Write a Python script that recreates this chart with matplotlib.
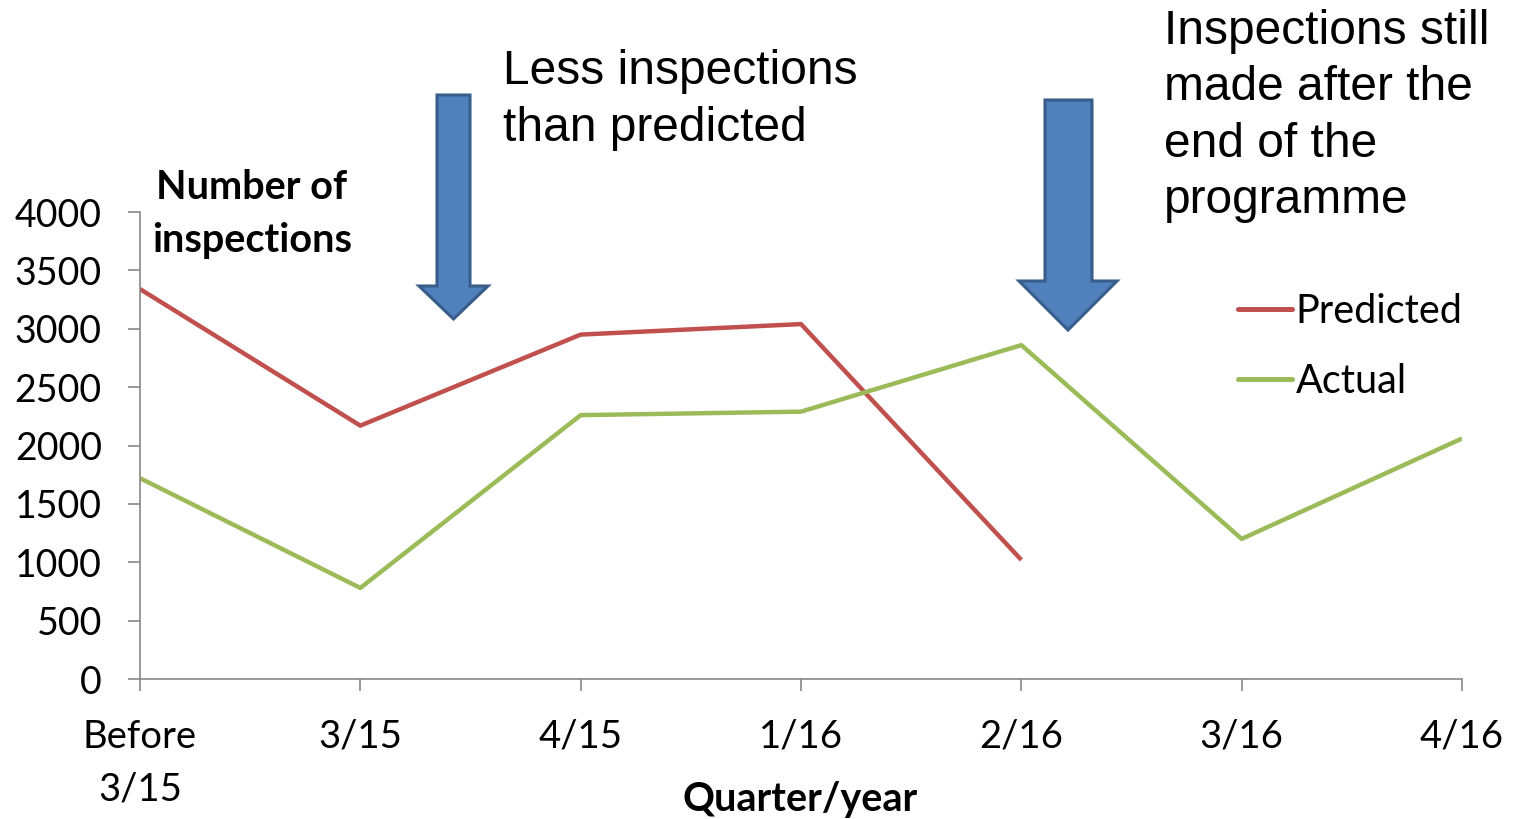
import matplotlib.pyplot as plt
from matplotlib.patches import Polygon

categories = ['Before\n3/15', '3/15', '4/15', '1/16', '2/16', '3/16', '4/16']
predicted = [3340, 2170, 2950, 3040, 1020]
actual = [1720, 780, 2260, 2290, 2860, 1200, 2060]
yticks = [0, 500, 1000, 1500, 2000, 2500, 3000, 3500, 4000]

W, H = 1516, 819
fig = plt.figure(figsize=(W / 100, H / 100), dpi=100)


def px(x, y):
    # pixel position (from top left) -> figure fraction
    return (x / W, 1 - y / H)


ax = fig.add_axes([140 / W, 1 - 679 / H, (1462 - 140) / W, (679 - 212) / H])

red = '#C0504D'
green = '#9BBB59'
gray = '#878787'

ax.plot(range(len(predicted)), predicted, color=red, lw=3.2, label='Predicted',
        solid_joinstyle='round', solid_capstyle='butt')
ax.plot(range(len(actual)), actual, color=green, lw=3.2, label='Actual',
        solid_joinstyle='round', solid_capstyle='butt')

ax.set_xlim(0, len(categories) - 1)
ax.set_ylim(0, 4000)
ax.set_xticks(range(len(categories)))
ax.set_xticklabels(categories, fontfamily='Lato', fontsize=27.5, linespacing=1.58)
ax.set_yticks(yticks)
ax.set_yticklabels([str(v) for v in yticks], fontfamily='Lato', fontsize=27)
for s in ['top', 'right']:
    ax.spines[s].set_visible(False)
for s in ['left', 'bottom']:
    ax.spines[s].set_color(gray)
    ax.spines[s].set_linewidth(1.2)
ax.tick_params(axis='both', color=gray, width=1.2, length=8.5)
ax.tick_params(axis='y', pad=19)
ax.tick_params(axis='x', pad=20)
ax.set_facecolor('none')

ax.set_xlabel('Quarter/year', fontfamily='Lato', fontweight='bold', fontsize=28.5)
ax.xaxis.set_label_coords(0.499, (679 - 800) / 467)
ax.xaxis.label.set_va('center')

leg = ax.legend(loc='upper left', bbox_to_anchor=px(1238, 293),
                bbox_transform=fig.transFigure, frameon=False, borderpad=0,
                borderaxespad=0, prop={'family': 'Lato', 'size': 28.5},
                handlelength=1.36, handletextpad=0.1, labelspacing=0.83)
for line in leg.get_lines():
    line.set_solid_capstyle('round')
    line.set_linewidth(3.6)

fig.text(*px(252, 214), 'Number of\ninspections', fontfamily='Lato', fontweight='bold',
         fontsize=28.5, ha='center', va='center', linespacing=1.52)

fig.text(*px(503, 100), 'Less inspections\nthan predicted', fontfamily='Liberation Sans',
         fontsize=34.5, ha='left', va='center', linespacing=1.32)
fig.text(*px(1164, 116), 'Inspections still\nmade after the\nend of the\nprogramme',
         fontfamily='Liberation Sans', fontsize=34.5, ha='left', va='center', linespacing=1.33)


def block_arrow(x0, x1, top, head_y, tip_y, hx0, hx1):
    cx = (hx0 + hx1) / 2
    pts = [(x0, top), (x1, top), (x1, head_y), (hx1, head_y), (cx, tip_y),
           (hx0, head_y), (x0, head_y)]
    poly = Polygon([px(x, y) for x, y in pts], closed=True, transform=fig.transFigure,
                   facecolor='#4F81BD', edgecolor='#385D8A', lw=2.2, joinstyle='miter')
    fig.add_artist(poly)


block_arrow(437, 470, 95, 286, 319, 419, 488)
block_arrow(1045, 1092, 100, 281, 330, 1019, 1117)

fig.savefig('out.png', dpi=100)
